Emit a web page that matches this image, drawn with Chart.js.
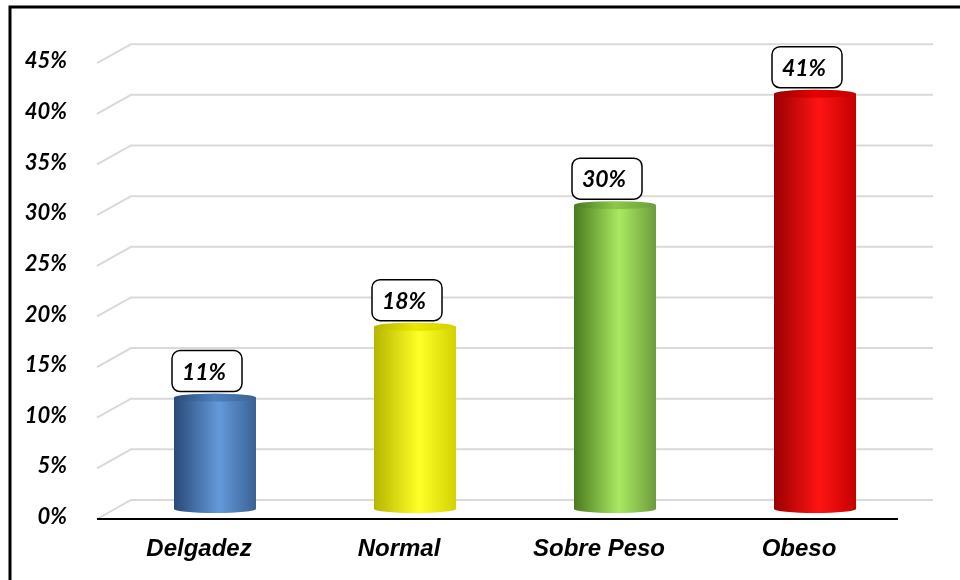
<!DOCTYPE html>
<html>
<head>
<meta charset="utf-8">
<script src="https://cdn.jsdelivr.net/npm/chart.js@4.4.0/dist/chart.umd.min.js"></script>
<style>
  body { margin: 0; background: #fff; }
  canvas { display: block; }
</style>
</head>
<body>
<canvas id="grafico" width="960" height="580"></canvas>
<script>
const categorias = ['Delgadez', 'Normal', 'Sobre Peso', 'Obeso'];
const porcentajes = [11, 18, 30, 41];
const ticksY = [0, 5, 10, 15, 20, 25, 30, 35, 40, 45];

// colores del cilindro: borde izquierdo, centro claro, borde derecho, tapa
const coloresIzq = ['#284a78', '#b5b500', '#4a7a1e', '#9a0000'];
const coloresCentro = ['#6499da', '#ffff28', '#a9e962', '#ff1414'];
const coloresDer = ['#3a6294', '#d2d200', '#6d9c3c', '#c40000'];
const coloresTapa = ['#4f80bd', '#e8e800', '#8cc84e', '#e40000'];

const BAR_PCT = 0.41;
const RY = 4;

function gradiente(ctx, x, w, i, tapa) {
  const g = ctx.createLinearGradient(x - w / 2, 0, x + w / 2, 0);
  if (tapa) {
    g.addColorStop(0, coloresIzq[i]);
    g.addColorStop(0.5, coloresTapa[i]);
    g.addColorStop(1, coloresDer[i]);
  } else {
    g.addColorStop(0, coloresIzq[i]);
    g.addColorStop(0.55, coloresCentro[i]);
    g.addColorStop(1, coloresDer[i]);
  }
  return g;
}

const fondoYMarco = {
  id: 'fondoYMarco',
  beforeDraw(chart) {
    const ctx = chart.ctx;
    ctx.save();
    ctx.fillStyle = '#fff';
    ctx.fillRect(0, 0, chart.width, chart.height);
    ctx.strokeStyle = '#000';
    ctx.lineWidth = 3;
    ctx.beginPath();
    ctx.moveTo(10, chart.height + 5);
    ctx.lineTo(10, 7);
    ctx.lineTo(chart.width + 5, 7);
    ctx.stroke();
    ctx.restore();
  }
};

const rejilla3D = {
  id: 'rejilla3D',
  beforeDatasetsDraw(chart) {
    const ctx = chart.ctx;
    const y = chart.scales.y;
    const area = chart.chartArea;
    ctx.save();
    ctx.strokeStyle = '#d9d9d9';
    ctx.lineWidth = 2;
    ticksY.forEach(v => {
      const py = y.getPixelForValue(v);
      ctx.beginPath();
      ctx.moveTo(area.left - 18, py + 10);
      ctx.lineTo(area.left + 16, py - 9);
      ctx.lineTo(area.right + 18, py - 9);
      ctx.stroke();
    });
    const p0 = y.getPixelForValue(0) + 10;
    ctx.strokeStyle = '#000';
    ctx.lineWidth = 2;
    ctx.beginPath();
    ctx.moveTo(area.left - 18, p0);
    ctx.lineTo(area.right - 17, p0);
    ctx.stroke();
    ctx.restore();
  }
};

const cilindros = {
  id: 'cilindros',
  afterDatasetsDraw(chart) {
    const ctx = chart.ctx;
    const meta = chart.getDatasetMeta(0);
    ctx.save();
    meta.data.forEach((bar, i) => {
      const w = bar.width;
      // base
      ctx.fillStyle = gradiente(ctx, bar.x, w, i, false);
      ctx.beginPath();
      ctx.ellipse(bar.x, bar.base, w / 2, RY, 0, 0, Math.PI);
      ctx.fill();
      // tapa
      ctx.fillStyle = gradiente(ctx, bar.x, w, i, true);
      ctx.beginPath();
      ctx.ellipse(bar.x, bar.y, w / 2, RY, 0, 0, Math.PI * 2);
      ctx.fill();
    });
    ctx.restore();
  }
};

const etiquetas = {
  id: 'etiquetas',
  afterDraw(chart) {
    const ctx = chart.ctx;
    const meta = chart.getDatasetMeta(0);
    ctx.save();
    meta.data.forEach((bar, i) => {
      const bw = 70, bh = 41;
      const bx = bar.x - bar.width / 2 - 2;
      const by = bar.y - 6 - bh;
      ctx.beginPath();
      ctx.roundRect(bx, by, bw, bh, 8);
      ctx.fillStyle = '#fff';
      ctx.fill();
      ctx.lineWidth = 1.5;
      ctx.strokeStyle = '#000';
      ctx.stroke();
      ctx.fillStyle = '#000';
      ctx.font = 'italic bold 23px Lato';
      ctx.textAlign = 'center';
      ctx.textBaseline = 'middle';
      ctx.fillText(porcentajes[i] + '%', bx + bw / 2 - 3, by + bh / 2 + 1);
    });
    ctx.restore();
  }
};

const ctx = document.getElementById('grafico').getContext('2d');
const grafico = new Chart(ctx, {
  type: 'bar',
  data: {
    labels: categorias,
    datasets: [{
      data: porcentajes,
      barPercentage: BAR_PCT,
      categoryPercentage: 1,
      borderWidth: 0,
      backgroundColor: (c) => {
        const ch = c.chart;
        if (!ch.chartArea || !ch.scales.x) return coloresCentro[c.dataIndex];
        const x = ch.scales.x.getPixelForValue(c.dataIndex);
        const w = (ch.chartArea.width / categorias.length) * BAR_PCT;
        return gradiente(ch.ctx, x, w, c.dataIndex, false);
      }
    }]
  },
  options: {
    responsive: false,
    animation: false,
    layout: { padding: { left: 0, top: 50, right: 45, bottom: 0 } },
    plugins: {
      legend: { display: false },
      tooltip: { enabled: false }
    },
    scales: {
      x: {
        grid: { display: false },
        border: { display: false },
        afterFit: (s) => { s.height = 71; },
        ticks: {
          color: '#000',
          padding: 18,
          labelOffset: -16,
          font: { family: 'Liberation Sans', size: 24, style: 'italic', weight: 'bold' }
        }
      },
      y: {
        min: 0,
        max: 45,
        grid: { display: false },
        border: { display: false },
        afterFit: (s) => { s.width = 115; },
        afterBuildTicks: (s) => { s.ticks = ticksY.map(v => ({ value: v })); },
        ticks: {
          color: '#000',
          padding: 40,
          labelOffset: 8,
          callback: (v) => v + '%',
          font: { family: 'Lato', size: 22, style: 'italic', weight: 'bold' }
        }
      }
    }
  },
  plugins: [fondoYMarco, rejilla3D, cilindros, etiquetas]
});
</script>
</body>
</html>
